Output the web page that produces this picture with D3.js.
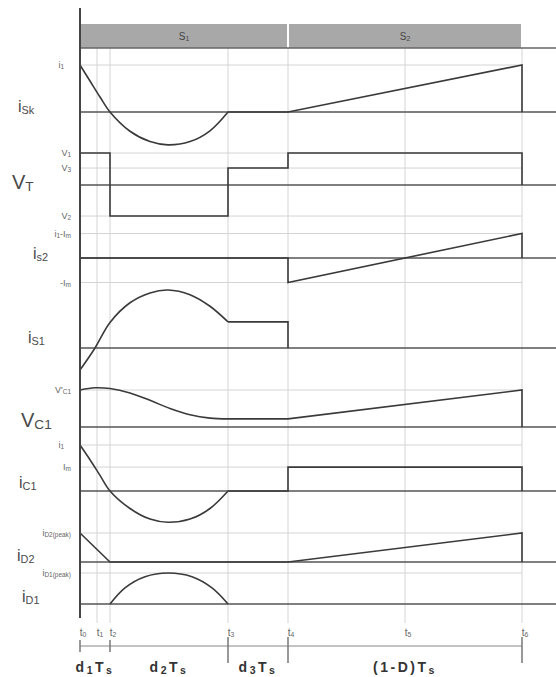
<!DOCTYPE html>
<html>
<head>
<meta charset="utf-8">
<script src="https://cdn.jsdelivr.net/npm/d3@7"></script>
<style>
  html, body { margin: 0; padding: 0; background: #fff; }
  svg { display: block; }
  text { font-family: "Liberation Sans", Arial, sans-serif; }
</style>
</head>
<body>
<svg id="chart" width="556" height="677"></svg>
<script>
// ---- time instants t0..t6 (one switching period) ----
const timeNames = ["0", "1", "2", "3", "4", "5", "6"];
const timeMarks = [0, 17, 30, 148, 208, 325, 442];

// switch conduction intervals shown in the top bar
const switchNames = ["1", "2"];
const switchStart = [0, 208];
const switchEnd = [208, 442];

// duration brackets below the time axis
const spanLabels = [["d", "1", "T", "s"], ["d", "2", "T", "s"], ["d", "3", "T", "s"], ["(1-D)T", "", "", "s"]];
const spanStart = [0, 30, 148, 208];
const spanEnd = [30, 148, 208, 442];

// ---- waveforms: [time, value] (value normalised to the row's reference level) ----
// i_Sk
const iSkResonant = [[0, 1], [10, 0.66], [20, 0.32], [30, 0], [50, -0.41], [70, -0.63], [88, -0.70], [110, -0.63], [130, -0.40], [148, 0]];
const iSkRamp = [[148, 0], [208, 0], [442, 1], [442, 0]];
// V_T
const vT = [[0, 1], [30, 1], [30, -0.97], [148, -0.97], [148, 0.53], [208, 0.53], [208, 1], [442, 1], [442, 0]];
// i_s2
const iS2 = [[0, 0], [208, 0], [208, -1], [442, 1], [442, 0]];
// i_S1
const iS1Resonant = [[0, -0.38], [15, 0], [30, 0.44], [50, 0.78], [70, 0.95], [88, 1], [110, 0.92], [130, 0.72], [148, 0.45]];
const iS1Flat = [[148, 0.45], [208, 0.45], [208, 0]];
// V_C1
const vC1Resonant = [[0, 1], [15, 1.06], [30, 1.04], [50, 0.92], [70, 0.72], [90, 0.50], [110, 0.33], [130, 0.24], [148, 0.22]];
const vC1Ramp = [[148, 0.22], [208, 0.22], [442, 1], [442, 0]];
// i_C1
const iC1Resonant = [[0, 1], [10, 0.68], [20, 0.34], [30, 0], [50, -0.38], [70, -0.61], [88, -0.68], [110, -0.61], [130, -0.38], [148, 0]];
const iC1Step = [[148, 0], [208, 0], [208, 0.52], [442, 0.52], [442, 0]];
// i_D2
const iD2 = [[0, 1], [30, 0], [208, 0], [442, 1], [442, 0]];
// i_D1
const iD1Pulse = [[30, 0], [45, 0.52], [65, 0.88], [88, 1], [112, 0.88], [132, 0.52], [148, 0]];

// reference levels per row: [main, subscript, tail, tailSub, value]
const iSkLevels = [["i", "1", "", "", 1]];
const vTLevels = [["V", "1", "", "", 1], ["V", "3", "", "", 0.53], ["V", "2", "", "", -0.97]];
const iS2Levels = [["i", "1", "-I", "m", 1], ["-I", "m", "", "", -1]];
const vC1Levels = [["V'", "C1", "", "", 1]];
const iC1Levels = [["i", "1", "", "", 1], ["I", "m", "", "", 0.52]];
const iD2Levels = [["i", "D2(peak)", "", "", 1]];
const iD1Levels = [["i", "D1(peak)", "", "", 1]];

// ---- layout ----
const svg = d3.select("#chart");
const x = d3.scaleLinear().domain([0, 442]).range([80, 522]);
const xRight = 556;
const barTop = 24, barBottom = 48;
const gridBottom = 623;

const rows = [
  { name: ["i", "Sk"], axis: 112, unit: 47, lx: 18, ly: 112, fs: 16, levels: iSkLevels },
  { name: ["V", "T"], axis: 185, unit: 32, lx: 12, ly: 189, fs: 20, levels: vTLevels },
  { name: ["i", "s2"], axis: 258, unit: 24.5, lx: 33, ly: 259, fs: 16, levels: iS2Levels },
  { name: ["i", "S1"], axis: 348, unit: 58, lx: 28, ly: 343, fs: 16, levels: [] },
  { name: ["V", "C1"], axis: 427, unit: 37, lx: 21, ly: 427, fs: 20, levels: vC1Levels },
  { name: ["i", "C1"], axis: 491, unit: 46, lx: 19, ly: 488, fs: 16, levels: iC1Levels },
  { name: ["i", "D2"], axis: 562, unit: 29, lx: 17, ly: 561, fs: 16, levels: iD2Levels },
  { name: ["i", "D1"], axis: 604, unit: 31, lx: 22, ly: 602, fs: 16, levels: iD1Levels }
];
rows.forEach(r => { r.y = d3.scaleLinear().domain([0, 1]).range([r.axis, r.axis - r.unit]); });

const ink = "#3a3a3a";
const axisInk = "#555";
const faint = "#d4d4d4";
const labelInk = "#666";

function subText(g, xPos, y, parts, size, anchor, color, weight, subScale) {
  const k = subScale || 0.68;
  const t = g.append("text").attr("x", xPos).attr("y", y)
    .attr("text-anchor", anchor || "start")
    .attr("fill", color || labelInk)
    .attr("font-weight", weight || "normal");
  let shifted = false;
  for (let i = 0; i < parts.length; i += 2) {
    if (parts[i]) {
      const m = t.append("tspan").attr("font-size", size).text(parts[i]);
      if (shifted) { m.attr("dy", -size * 0.12); shifted = false; }
    }
    if (parts[i + 1]) {
      const s = t.append("tspan").attr("font-size", size * k).text(parts[i + 1]);
      if (!shifted) { s.attr("dy", size * 0.12); shifted = true; }
    }
  }
  return t;
}

// ---- faint vertical time grid ----
svg.append("g").selectAll("line").data(timeMarks.slice(1)).join("line")
  .attr("x1", d => x(d)).attr("x2", d => x(d))
  .attr("y1", barBottom).attr("y2", gridBottom)
  .attr("stroke", faint).attr("stroke-width", 1);

// ---- faint reference level lines ----
rows.forEach(r => {
  svg.append("g").selectAll("line").data(r.levels).join("line")
    .attr("x1", x(0)).attr("x2", x(442))
    .attr("y1", d => r.y(d[4])).attr("y2", d => r.y(d[4]))
    .attr("stroke", faint).attr("stroke-width", 1);
});

// ---- switch bar ----
const bar = svg.append("g");
bar.selectAll("rect").data(switchNames).join("rect")
  .attr("x", (d, i) => x(switchStart[i]) + 1)
  .attr("width", (d, i) => x(switchEnd[i]) - x(switchStart[i]) - 2)
  .attr("y", barTop).attr("height", barBottom - barTop)
  .attr("fill", "#a8a8a8");
switchNames.forEach((n, i) => {
  subText(bar, (x(switchStart[i]) + x(switchEnd[i])) / 2, 40, ["S", n], 10, "middle", "#444");
});
svg.append("line").attr("x1", x(0)).attr("x2", xRight).attr("y1", barBottom).attr("y2", barBottom)
  .attr("stroke", "#666").attr("stroke-width", 1.5);

// ---- zero axes ----
svg.append("g").selectAll("line").data(rows).join("line")
  .attr("x1", x(0)).attr("x2", xRight)
  .attr("y1", d => d.axis).attr("y2", d => d.axis)
  .attr("stroke", axisInk).attr("stroke-width", 1.6);

// ---- waveforms ----
function trace(row, pts, curve) {
  const line = d3.line().x(d => x(d[0])).y(d => row.y(d[1])).curve(curve || d3.curveLinear);
  svg.append("path").attr("d", line(pts)).attr("fill", "none")
    .attr("stroke", ink).attr("stroke-width", 1.6).attr("stroke-linejoin", "miter");
}
const smooth = d3.curveCatmullRom.alpha(0.5);
trace(rows[0], iSkResonant, smooth);
trace(rows[0], iSkRamp);
trace(rows[1], vT);
trace(rows[2], iS2);
trace(rows[3], iS1Resonant, smooth);
trace(rows[3], iS1Flat);
trace(rows[4], vC1Resonant, smooth);
trace(rows[4], vC1Ramp);
trace(rows[5], iC1Resonant, smooth);
trace(rows[5], iC1Step);
trace(rows[6], iD2);
trace(rows[7], iD1Pulse, smooth);

// ---- main vertical axis ----
svg.append("line").attr("x1", x(0)).attr("x2", x(0)).attr("y1", 8).attr("y2", 618)
  .attr("stroke", "#444").attr("stroke-width", 2);

// ---- row names and level labels ----
rows.forEach(r => {
  subText(svg, r.lx, r.ly, r.name, r.fs, "start", "#4a4a4a");
  r.levels.forEach(l => {
    const isI1 = l[0] === "i" && l[1] === "1" && !l[2];
    subText(svg, isI1 ? 64 : 71, r.y(l[4]) + 3, l.slice(0, 4), 9, "end", labelInk, "normal", 0.72);
  });
});

// ---- time instant labels ----
timeMarks.forEach((t, i) => {
  subText(svg, x(t) + 3, 636, ["t", timeNames[i]], 10, "middle", labelInk);
});

// ---- duration brackets ----
const dimY = 646;
svg.append("line").attr("x1", x(0)).attr("x2", x(442)).attr("y1", dimY).attr("y2", dimY)
  .attr("stroke", "#888").attr("stroke-width", 1);
const bounds = [0, 30, 148, 208, 442];
const longTick = [false, false, true, true, true];
svg.append("g").selectAll("line").data(bounds).join("line")
  .attr("x1", d => x(d)).attr("x2", d => x(d))
  .attr("y1", (d, i) => longTick[i] ? 637 : 640)
  .attr("y2", (d, i) => longTick[i] ? 663 : 652)
  .attr("stroke", "#777").attr("stroke-width", 1.5);
spanLabels.forEach((p, i) => {
  const t = subText(svg, (x(spanStart[i]) + x(spanEnd[i])) / 2, 672, p, 14, "middle", "#333", "bold", 0.75);
  t.attr("letter-spacing", 2.5);
});
</script>
</body>
</html>
